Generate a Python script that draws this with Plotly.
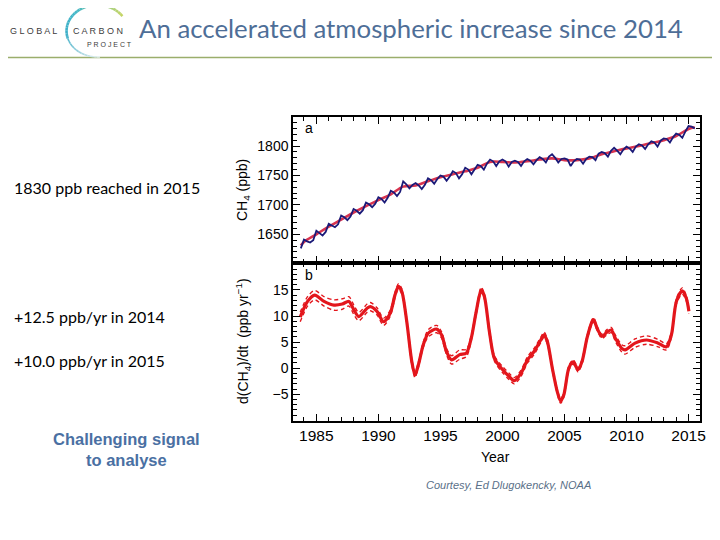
import plotly.graph_objects as go
import math

# page has an 8px body margin, so the figure is placed at (8, 8)
OFF = 8
W, H = 712, 532

# ---------------- data ----------------
# Panel a: globally averaged CH4 (ppb), quarterly samples
ch4_years = [1983.75] + [y + q * 0.25 for y in range(1984, 2015) for q in range(4)] + [2015.0, 2015.25, 2015.5]
ch4_values = [
    1626,
    1641, 1638, 1636, 1640,   # 1984
    1656, 1652, 1648, 1654,   # 1985
    1668, 1665, 1662, 1667,   # 1986
    1682, 1679, 1674, 1680,   # 1987
    1693, 1690, 1685, 1691,   # 1988
    1704, 1701, 1696, 1702,   # 1989
    1713, 1710, 1704, 1712,   # 1990
    1724, 1721, 1715, 1722,   # 1991
    1740, 1735, 1728, 1734,   # 1992
    1737, 1733, 1727, 1734,   # 1993
    1745, 1742, 1736, 1744,   # 1994
    1750, 1748, 1741, 1748,   # 1995
    1757, 1754, 1745, 1752,   # 1996
    1763, 1760, 1752, 1760,   # 1997
    1768, 1766, 1760, 1770,   # 1998
    1777, 1774, 1766, 1774,   # 1999
    1777, 1774, 1765, 1773,   # 2000
    1775, 1773, 1766, 1774,   # 2001
    1778, 1775, 1769, 1776,   # 2002
    1781, 1778, 1772, 1782,   # 2003
    1786, 1780, 1772, 1778,   # 2004
    1779, 1777, 1766, 1774,   # 2005
    1778, 1777, 1770, 1778,   # 2006
    1782, 1781, 1776, 1787,   # 2007
    1790, 1788, 1782, 1792,   # 2008
    1797, 1792, 1786, 1794,   # 2009
    1799, 1796, 1790, 1799,   # 2010
    1803, 1801, 1795, 1803,   # 2011
    1808, 1806, 1799, 1809,   # 2012
    1813, 1812, 1806, 1815,   # 2013
    1821, 1819, 1814, 1825,   # 2014
    1834, 1833, 1830,         # 2015
]

# deseasonalised trend (ppb)
trend_years = [1983.75] + list(range(1984, 2016)) + [2015.5]
trend_values = [1631, 1637, 1650, 1663, 1675, 1687, 1698, 1708, 1718, 1731, 1733,
                1740, 1747, 1752, 1757, 1763, 1773, 1773, 1772, 1774, 1777, 1779,
                1776, 1776, 1779, 1786, 1791, 1796, 1800, 1805, 1810, 1817, 1829, 1832]

# Panel b: growth rate (ppb/yr) with uncertainty
growth_years = [1983.70, 1984.29, 1984.87, 1985.62, 1986.42, 1987.09, 1987.62, 1988.02,
                1988.42, 1989.09, 1989.35, 1989.89, 1990.42, 1990.95, 1991.35, 1991.62,
                1991.89, 1992.29, 1992.69, 1992.95, 1993.22, 1993.62, 1994.02, 1994.69,
                1995.09, 1995.49, 1995.89, 1996.55, 1997.09, 1997.49, 1997.89, 1998.29,
                1998.55, 1998.95, 1999.35, 2000.02, 2000.55, 2000.95, 2001.49, 2002.02,
                2002.55, 2003.09, 2003.35, 2003.62, 2004.02, 2004.42, 2004.69, 2004.95,
                2005.35, 2005.70, 2006.10, 2006.42, 2006.82, 2007.22, 2007.35, 2007.62,
                2008.02, 2008.42, 2008.77, 2009.09, 2009.62, 2009.89, 2010.69, 2011.62,
                2012.55, 2013.22, 2013.62, 2014.02, 2014.49, 2014.82, 2015.03]
growth_values = [9.8, 12.8, 14.0, 12.8, 12.1, 12.3, 12.8, 11.2,
                 9.9, 11.5, 11.8, 10.9, 8.9, 10.5, 14.1, 15.7,
                 14.7, 8.9, 1.3, -1.3, 0.6, 4.5, 6.7, 7.5,
                 6.4, 3.2, 1.6, 2.6, 2.9, 5.8, 10.9, 15.0,
                 13.7, 7.0, 1.9, -0.3, -1.6, -2.4, -1.0, 1.6,
                 3.2, 5.4, 6.4, 5.1, 0.0, -4.5, -6.3, -5.1,
                 0.0, 1.2, -0.3, 1.3, 5.8, 8.9, 9.3, 7.7,
                 6.1, 6.9, 7.3, 5.8, 3.8, 3.5, 4.8, 5.4,
                 4.8, 4.1, 6.4, 12.8, 14.8, 13.4, 10.9]
growth_unc = [0.9, 0.9, 0.9, 0.9, 1.0, 1.0, 0.9, 0.9,
              0.8, 0.8, 0.8, 0.7, 0.7, 0.6, 0.5, 0.5,
              0.5, 0.5, 0.5, 0.5, 0.5, 0.5, 0.7, 0.7,
              0.6, 0.6, 0.8, 0.9, 0.7, 0.5, 0.5, 0.5,
              0.5, 0.5, 0.5, 0.6, 0.6, 0.6, 0.6, 0.6,
              0.6, 0.5, 0.5, 0.5, 0.4, 0.4, 0.4, 0.4,
              0.4, 0.4, 0.4, 0.4, 0.4, 0.4, 0.4, 0.4,
              0.4, 0.5, 0.5, 0.6, 0.7, 0.8, 0.8, 0.8,
              0.7, 0.6, 0.5, 0.5, 0.6, 0.5, 0.5]
growth_upper = [v + u for v, u in zip(growth_values, growth_unc)]
growth_lower = [v - u for v, u in zip(growth_values, growth_unc)]

x_ticks = [1985, 1990, 1995, 2000, 2005, 2010, 2015]
ya_ticks = [1650, 1700, 1750, 1800]
yb_ticks = [-5, 0, 5, 10, 15]

# ---------------- geometry helpers (page pixel coords) ----------------
def px(x):
    return (x - OFF) / W

def py(y):
    return 1 - (y - OFF) / H

L, R = 295.7, 705.7
A_TOP, MID, B_BOT = 117.3, 263.3, 420.7

fig = go.Figure()

RED = "#e3161c"
fig.add_trace(go.Scatter(x=trend_years, y=trend_values, mode="lines", line=dict(color="#d8344f", width=2.6, shape="spline"),
                         xaxis="x2", yaxis="y2", hoverinfo="skip"))
fig.add_trace(go.Scatter(x=ch4_years, y=ch4_values, mode="lines", line=dict(color="#1b1a78", width=1.8),
                         xaxis="x2", yaxis="y2", hoverinfo="skip"))

for arr in (growth_upper, growth_lower):
    fig.add_trace(go.Scatter(x=growth_years, y=arr, mode="lines",
                             line=dict(color=RED, width=1.4, dash="4px,3px", shape="spline", smoothing=0.8),
                             xaxis="x", yaxis="y", hoverinfo="skip"))
fig.add_trace(go.Scatter(x=growth_years, y=growth_values, mode="lines",
                         line=dict(color=RED, width=3.2, shape="spline", smoothing=0.8),
                         xaxis="x", yaxis="y", hoverinfo="skip"))

axis_common = dict(showline=True, linecolor="black", linewidth=2, mirror="allticks",
                   ticks="inside", tickcolor="black", showgrid=False, zeroline=False)

tickfont = dict(family="Liberation Sans, Arial, sans-serif", size=14, color="black")

fig.update_layout(
    width=W, height=H, margin=dict(l=0, r=0, t=0, b=0),
    paper_bgcolor="white", plot_bgcolor="rgba(0,0,0,0)", showlegend=False,
    xaxis=dict(domain=[px(L), px(R)], anchor="y", range=[1983.14, 2015.91],
               tickvals=x_ticks, ticklen=7, tickwidth=1.3,
               minor=dict(tickmode="linear", tick0=1980, dtick=1, ticklen=4, ticks="inside", tickcolor="black"),
               tickfont=dict(family="Liberation Sans, Arial, sans-serif", size=15.5, color="black"),
               **axis_common),
    yaxis=dict(domain=[py(B_BOT), py(MID)], anchor="x", range=[-10.06, 20.1],
               tickvals=yb_ticks, ticktext=["\u22125", "0", "5", "10", "15"], ticklen=7, tickwidth=1.3,
               minor=dict(tickmode="linear", tick0=0, dtick=1, ticklen=4, ticks="inside", tickcolor="black"),
               tickfont=tickfont, **axis_common),
    xaxis2=dict(domain=[px(L), px(R)], anchor="y2", range=[1983.14, 2015.91], matches="x",
                tickvals=x_ticks, ticklen=7, tickwidth=1.3, showticklabels=False,
                minor=dict(tickmode="linear", tick0=1980, dtick=1, ticklen=4, ticks="inside", tickcolor="black"),
                **axis_common),
    yaxis2=dict(domain=[py(MID), py(A_TOP)], anchor="x2", range=[1600.7, 1848.8],
                tickvals=ya_ticks, ticklen=7, tickwidth=1.3,
                minor=dict(tickmode="linear", tick0=1600, dtick=10, ticklen=4, ticks="inside", tickcolor="black"),
                tickfont=tickfont, **axis_common),
)

ann = []
def text(x, y, s, size, color="black", family="Lato, sans-serif", xanchor="left", yanchor="middle", angle=0, **kw):
    ann.append(dict(x=px(x), y=py(y), xref="paper", yref="paper", text=s, showarrow=False,
                    xanchor=xanchor, yanchor=yanchor, textangle=angle,
                    font=dict(size=size, color=color, family=family), **kw))

# header
text(138, 28, "An accelerated atmospheric increase since 2014", 25.8, color="#4e6e97", family="Lato, sans-serif")
text(8, 31, "G L O B A L", 9, color="#3c3c3c", family="Liberation Sans, Arial, sans-serif")
text(72, 31, "C A R B O N", 9, color="#3c3c3c", family="Liberation Sans, Arial, sans-serif")
text(86, 44, "P R O J E C T", 7, color="#3c3c3c", family="Liberation Sans, Arial, sans-serif")

# left-hand notes
text(12, 187, "1830 ppb reached in 2015", 16)
text(12, 316, "+12.5 ppb/yr in 2014", 16)
text(12, 360, "+10.0 ppb/yr in 2015", 16)
text(128, 449, "<b>Challenging signal</b><br><b>to analyse</b>", 16.5, color="#4a70a3",
     family="Liberation Sans, Arial, sans-serif", xanchor="center", align="center")
text(513, 485, "<i>Courtesy, Ed Dlugokencky, NOAA</i>", 11, color="#5a7088",
     family="Liberation Sans, Arial, sans-serif", xanchor="center")

# chart labels
text(312, 128, "a", 14, family="Liberation Sans, Arial, sans-serif", xanchor="center")
text(312, 275, "b", 14, family="Liberation Sans, Arial, sans-serif", xanchor="center")
text(245, 190, "CH<sub>4</sub> (ppb)", 14, family="Liberation Sans, Arial, sans-serif", xanchor="center", angle=-90)
text(245, 341, "d(CH<sub>4</sub>)/dt  (ppb yr<sup>\u22121</sup>)", 14, family="Liberation Sans, Arial, sans-serif",
     xanchor="center", angle=-90)
text(500, 457, "Year", 14, family="Liberation Sans, Arial, sans-serif", xanchor="center")

fig.update_layout(annotations=ann)

# header rule and logo arc
shapes = [dict(type="line", xref="paper", yref="paper", x0=0, x1=1, y0=py(57.5), y1=py(57.5),
               line=dict(color="#9bae6c", width=1.5))]
cx, cy, rx, ry = 98, 31, 31, 26
stops = [(-35, (200, 214, 100)), (-80, (150, 205, 140)), (-130, (70, 185, 200)),
         (-185, (60, 175, 200)), (-240, (170, 215, 225)), (-275, (235, 245, 245))]
n = 40
a0, a1 = stops[0][0], stops[-1][0]
for i in range(n):
    t0 = a0 + (a1 - a0) * i / n
    t1 = a0 + (a1 - a0) * (i + 1) / n
    tm = (t0 + t1) / 2
    c = stops[-1][1]
    for j in range(len(stops) - 1):
        if stops[j][0] >= tm >= stops[j + 1][0]:
            f = (tm - stops[j][0]) / (stops[j + 1][0] - stops[j][0])
            c = tuple(int(stops[j][1][k] + f * (stops[j + 1][1][k] - stops[j][1][k])) for k in range(3))
            break
    x0 = cx + rx * math.cos(math.radians(t0)); y0 = cy + ry * math.sin(math.radians(t0))
    x1 = cx + rx * math.cos(math.radians(t1)); y1 = cy + ry * math.sin(math.radians(t1))
    w = 2.6 if tm > -200 else 1.6
    shapes.append(dict(type="line", xref="paper", yref="paper", x0=px(x0), y0=py(y0), x1=px(x1), y1=py(y1),
                       line=dict(color="rgb(%d,%d,%d)" % c, width=w)))
fig.update_layout(shapes=shapes)

fig.write_html("out.html")
